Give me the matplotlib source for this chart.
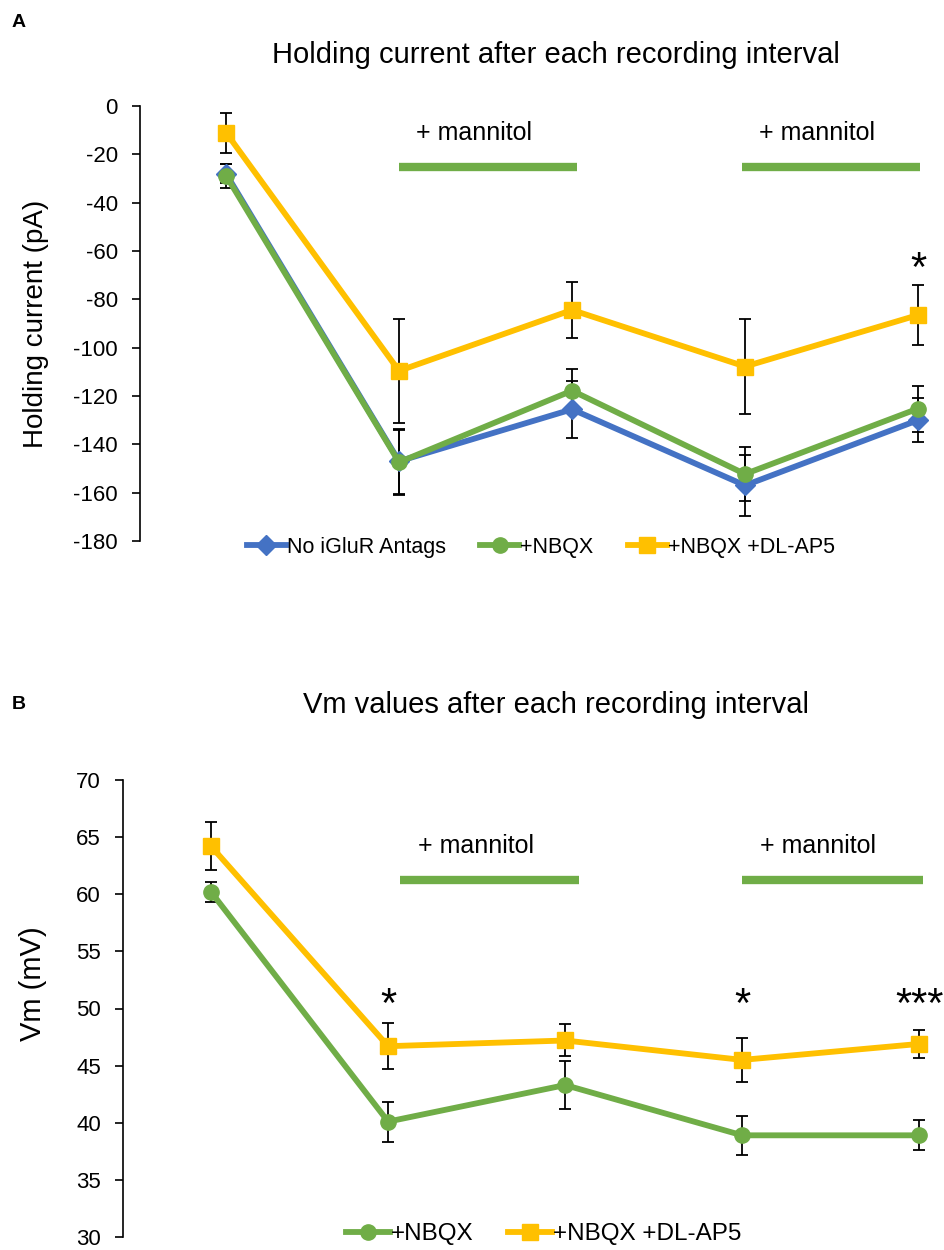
import matplotlib.pyplot as plt
import numpy as np

plt.rcParams['font.family'] = ['Liberation Sans', 'DejaVu Sans']
plt.rcParams['axes.unicode_minus'] = False

# intervals (category positions)
intervals = [1, 2, 3, 4, 5]

# Panel A - holding current (pA)
hold_none = [-28, -147, -125.5, -157, -130]
hold_none_err = [4, 13.5, 11.7, 12.7, 9]
hold_nbqx = [-28.8, -147.4, -117.8, -152.3, -125.2]
hold_nbqx_err = [5, 13.5, 9, 11, 9.5]
hold_ap5 = [-11, -109.6, -84.4, -107.8, -86.5]
hold_ap5_err = [8.3, 21.5, 11.6, 19.5, 12.4]

# Panel B - Vm (mV)
vm_nbqx = [60.2, 40.1, 43.3, 38.9, 38.9]
vm_nbqx_err = [0.9, 1.75, 2.1, 1.7, 1.3]
vm_ap5 = [64.2, 46.7, 47.2, 45.5, 46.9]
vm_ap5_err = [2.1, 2.0, 1.4, 1.9, 1.2]

# annotations
mannitol_a = [(2.0, 3.03), (3.98, 5.01)]
mannitol_b = [(2.07, 3.08), (4.0, 5.02)]
stars_a = {5: '*'}
stars_b = {2: '*', 4: '*', 5: '***'}

c_blue = '#4472C4'
c_green = '#70AD47'
c_yellow = '#FFC000'

fig = plt.figure(figsize=(9.44, 12.5), dpi=100)
axA = fig.add_axes([0.1478, 0.5672, 0.8522, 0.348])
axB = fig.add_axes([0.1298, 0.0104, 0.8702, 0.3656])


def draw_series(ax, y, err, color, marker, ms, label):
    ax.errorbar(intervals, y, yerr=err, fmt='none', ecolor='black',
                elinewidth=1.3, capsize=4, capthick=1.3, zorder=2)
    line, = ax.plot(intervals, y, color=color, marker=marker, markersize=ms,
                    linewidth=4.2, label=label, zorder=3)
    return line


def style_axis(ax, xmax):
    for s in ['top', 'right', 'bottom']:
        ax.spines[s].set_visible(False)
    ax.spines['left'].set_linewidth(1.2)
    ax.set_xticks([])
    ax.tick_params(axis='y', direction='out', length=5.5, width=1.2, labelsize=16, pad=10)
    ax.set_xlim(0.5, xmax)


# ---- Panel A ----
la = [draw_series(axA, hold_none, hold_none_err, c_blue, 'D', 10, 'No iGluR Antags'),
      draw_series(axA, hold_nbqx, hold_nbqx_err, c_green, 'o', 11, '+NBQX'),
      draw_series(axA, hold_ap5, hold_ap5_err, c_yellow, 's', 11, '+NBQX +DL-AP5')]
style_axis(axA, 5.15)
axA.set_ylim(-180, 0)
axA.set_yticks(np.arange(-180, 1, 20))
axA.set_ylabel('Holding current (pA)', fontsize=20)
axA.yaxis.set_label_coords(-0.113, 0.5)
for x0, x1 in mannitol_a:
    axA.plot([x0, x1], [-25.2, -25.2], color=c_green, linewidth=6, solid_capstyle='butt')
    axA.text(x0 + 0.1, -11, '+ mannitol', fontsize=18, va='center', ha='left')
for x, s in stars_a.items():
    axA.text(x, -68, s, fontsize=30, ha='center', va='center')
fig.text(0.589, 0.956, 'Holding current after each recording interval',
         fontsize=21, ha='center', va='center')
fig.text(0.012, 0.982, 'A', fontsize=14, fontweight='bold', va='center')
fig.legend(handles=la, loc='center', ncol=3, frameon=False,
           bbox_to_anchor=(0.573, 1 - 547 / 1250), fontsize=15.5,
           handlelength=1.8, columnspacing=1.6, handletextpad=0.05)

# ---- Panel B ----
lb = [draw_series(axB, vm_nbqx, vm_nbqx_err, c_green, 'o', 11, '+NBQX'),
      draw_series(axB, vm_ap5, vm_ap5_err, c_yellow, 's', 11, '+NBQX +DL-AP5')]
style_axis(axB, 5.14)
axB.set_ylim(30, 70)
axB.set_yticks(np.arange(30, 71, 5))
axB.set_ylabel('Vm (mV)', fontsize=21)
axB.yaxis.set_label_coords(-0.092, 0.555)
for x0, x1 in mannitol_b:
    axB.plot([x0, x1], [61.26, 61.26], color=c_green, linewidth=6, solid_capstyle='butt')
    axB.text(x0 + 0.1, 64.2, '+ mannitol', fontsize=18, va='center', ha='left')
for x, s in stars_b.items():
    axB.text(x, 50.2, s, fontsize=30, ha='center', va='center')
fig.text(0.589, 1 - 705 / 1250, 'Vm values after each recording interval',
         fontsize=21, ha='center', va='center')
fig.text(0.012, 1 - 705 / 1250, 'B', fontsize=14, fontweight='bold', va='center')
fig.legend(handles=lb, loc='center', ncol=2, frameon=False,
           bbox_to_anchor=(0.576, 1 - 1234 / 1250), fontsize=17.5,
           handlelength=1.8, columnspacing=1.4, handletextpad=0.05)

fig.savefig('out.png', dpi=100)
